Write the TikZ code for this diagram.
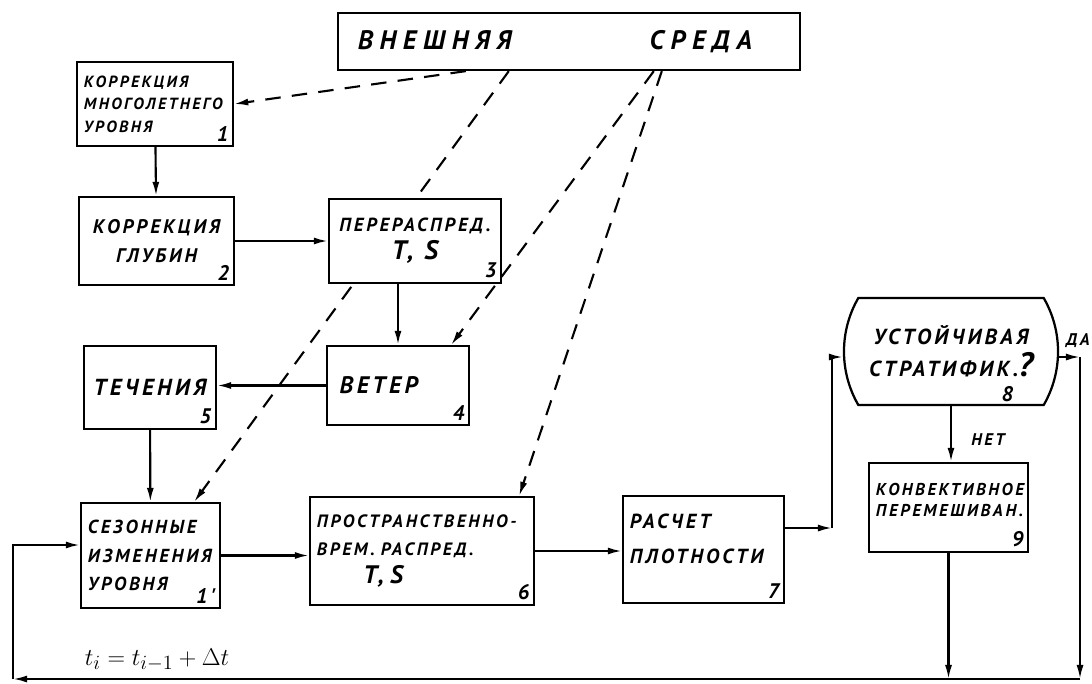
\documentclass[tikz,border=0pt]{standalone}
\usepackage{fontspec}
\newfontfamily\hand[LetterSpace=15]{PT Sans}
\usetikzlibrary{arrows.meta,positioning,calc,backgrounds,shapes.misc}
\newcommand\hsz[2]{\hand\bfseries\itshape\fontsize{#1}{#2}\selectfont}
\tikzset{
  >=Latex,
  blk/.style={rectangle, draw, fill=white, line width=1.6pt, inner sep=5pt},
  dec/.style={rounded rectangle, rounded rectangle arc length=60, draw, fill=white, line width=1.6pt, inner sep=5pt},
  tr/.style={-{Latex[length=10pt,width=5pt]}, line width=1.5pt},
  dsh/.style={tr, dash pattern=on 11pt off 8pt},
  nr/.style={label={[anchor=south east, inner sep=4pt, font=\hsz{15}{15}]south east:#1}},
  lbl/.style={font=\hsz{12}{13}}
}
\begin{document}
\begin{tikzpicture}[x=0.025cm, y=-0.025cm]
\useasboundingbox (0,0) rectangle (1092,684);

% blocks
\node (env) [blk, minimum width=11.55cm, minimum height=1.425cm, inner xsep=14pt, text width=10.56cm, align=left,
  font={\hsz{19}{20}\addfontfeature{LetterSpace=25}}] at (569,41.5) {ВНЕШНЯЯ\hfill СРЕДА\hspace*{20pt}\mbox{}};
\node (k1) [blk, nr=1, minimum width=3.9cm, minimum height=2.1cm, text width=3.55cm, align=left, font=\hsz{11.5}{16}]
  at (155,104) {КОРРЕКЦИЯ\\МНОГОЛЕТНЕГО\\УРОВНЯ};
\node (k2) [blk, nr=2, minimum width=3.875cm, minimum height=2.2cm, align=center, font=\hsz{14}{21}]
  at (156.5,241) {КОРРЕКЦИЯ\\ГЛУБИН};
\node (k3) [blk, nr=3, minimum width=4.3cm, minimum height=2.1cm, align=center, font=\hsz{13.5}{20}]
  at (415,241) {ПЕРЕРАСПРЕД.\\{\fontsize{19}{20}\selectfont T, S}};
\node (k4) [blk, nr=4, minimum width=3.55cm, minimum height=1.975cm, text width=3.2cm, align=left, font=\hsz{17}{20}]
  at (398,385.5) {\hspace*{4pt}ВЕТЕР};
\node (k5) [blk, nr=5, minimum width=3.3cm, minimum height=2.075cm, align=center, font=\hsz{16.5}{20}]
  at (150,387.5) {ТЕЧЕНИЯ};
\node (k1p) [blk, nr=1', minimum width=3.475cm, minimum height=2.625cm, text width=3.125cm, align=left, font=\hsz{13.4}{20}]
  at (150.5,555.5) {СЕЗОННЫЕ\\ИЗМЕНЕНИЯ\\УРОВНЯ};
\node (k6) [blk, nr=6, minimum width=5.6cm, minimum height=2.7cm, text width=5.25cm, align=left, font=\hsz{12.7}{20}]
  at (422,551) {ПРОСТРАНСТВЕННО-\\ВРЕМ. РАСПРЕД.\\\hspace*{2.6em}{\fontsize{18}{20}\selectfont T, S}};
\node (k7) [blk, nr=7, minimum width=4.025cm, minimum height=2.675cm, text width=3.675cm, align=left, font=\hsz{14.5}{25}]
  at (703.5,549.5) {РАСЧЕТ\\ПЛОТНОСТИ\\[-10pt]\mbox{}};
\node (k8) [dec, minimum width=4.85cm, minimum height=2.675cm, align=center, font=\hsz{15.5}{23},
  label={[anchor=south, xshift=40pt, inner sep=3pt, font=\hsz{15}{15}]south:8}]
  at (951,351.5) {УСТОЙЧИВАЯ\\СТРАТИФИК.{\fontsize{24}{22}\selectfont ?}};
\node (k9) [blk, nr=9, minimum width=3.975cm, minimum height=2.225cm, text width=3.625cm, align=left, font=\hsz{12.2}{15}]
  at (948.5,507.5) {КОНВЕКТИВНОЕ\\ПЕРЕМЕШИВАН.\\[-4pt]\mbox{}};

% points of the loop
\coordinate (c7) at (832,528);
\coordinate (da) at (1080,357);
\coordinate (rb) at (1080,679);
\coordinate (lb) at (13,679);
\coordinate (lt) at (13,545);

% solid flow
\draw[tr] (k1) -- (k2);
\draw[tr] (k2) -- (k3);
\draw[tr] (k3.south -| k4.north) -- (k4.north);
\draw[tr] (k4.west) -- (k4.west -| k5.east);
\draw[tr] (k5) -- (k1p);
\draw[tr] (k1p.east) -- (k1p.east -| k6.west);
\draw[tr] (k6.east) -- (k6.east -| k7.west);
\draw[tr] (k7.east |- c7) -- (c7);
\draw[tr] (c7) |- (k8.west |- da);
\draw[tr] (k8.east |- da) -- (da);
\draw[tr] (k8.south) -- (k9.north -| k8.south);
\draw[tr] (da) -- (rb);
\draw[tr] (k9.south) -- (k9.south |- rb);
\draw[tr] (rb) -- (lb);
\draw[tr] (lb) -- (lt) -- (lt -| k1p.west);

\node (no) [lbl] at (988,440) {НЕТ};
\node (yes) [lbl] at (1078,341) {ДА};
\node (dt) at (157,660) {\fontsize{19}{22}\selectfont $t_i=t_{i-1}+\Delta t$};

% external influences
\begin{scope}[on background layer]
\draw[dsh] ($(env.south west)+(129,0)$) -- (k1.east);
\draw[dsh] ($(env.south west)+(172,0)$) -- ($(k1p.north east)+(-27,0)$);
\draw[dsh] ($(env.south west)+(317,0)$) -- ($(k4.north east)+(-19,0)$);
\draw[dsh] ($(env.south west)+(325,0)$) -- ($(k6.north east)+(-16,0)$);
\end{scope}
\end{tikzpicture}
\end{document}
